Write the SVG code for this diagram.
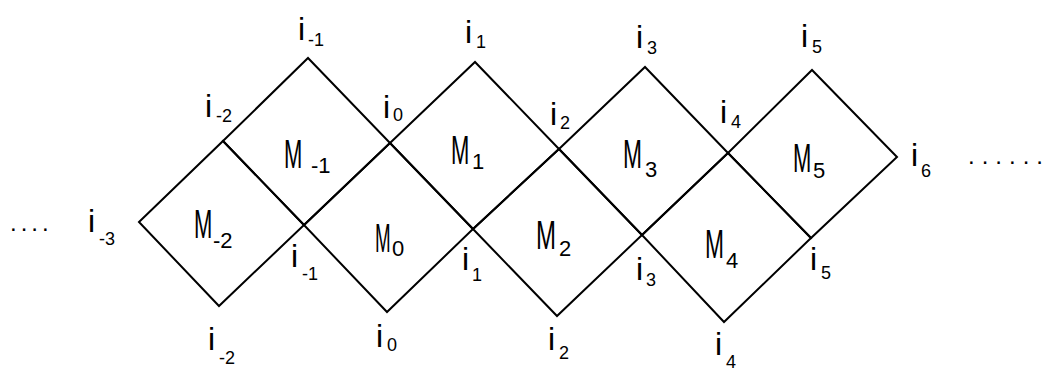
<svg xmlns="http://www.w3.org/2000/svg" width="1048" height="372" viewBox="0 0 1048 372">
<style>
  .cell { fill: none; stroke: #000; stroke-width: 2; stroke-linejoin: miter; }
  .m { font-family: "Liberation Sans", "DejaVu Sans", sans-serif; font-size: 40px; fill: #000; }
  .ms { font-family: "Liberation Sans", "DejaVu Sans", sans-serif; font-size: 22px; fill: #000; }
  .i { font-family: "Liberation Sans", "DejaVu Sans", sans-serif; font-size: 32px; fill: #000; }
  .is { font-size: 18px; }
  .dots { font-family: "Liberation Sans", "DejaVu Sans", sans-serif; font-size: 24px; fill: #000; }
</style>
<rect width="1048" height="372" fill="#fff"/>
<g id="connectors"></g>
<g id="nodes">
  <g id="M-2">
    <polygon class="cell" points="139,222 223,141 304,225 219,306"/>
    <text class="m" transform="translate(194,238) scale(0.55,1)">M</text>
    <text class="ms" x="213" y="248">-2</text>
  </g>
  <g id="M-1">
    <polygon class="cell" points="223,141 308,58 390,143 304,225"/>
    <text class="m" transform="translate(284,168) scale(0.55,1)">M</text>
    <text class="ms" x="311" y="173">-1</text>
  </g>
  <g id="M0">
    <polygon class="cell" points="304,225 390,143 473,229 387,312"/>
    <text class="m" transform="translate(375,252) scale(0.47,1)">M</text>
    <text class="ms" x="392" y="256">0</text>
  </g>
  <g id="M1">
    <polygon class="cell" points="390,143 475,62 559,149 473,229"/>
    <text class="m" transform="translate(451,164) scale(0.55,1)">M</text>
    <text class="ms" x="472" y="169">1</text>
  </g>
  <g id="M2">
    <polygon class="cell" points="473,229 559,149 642,235 557,316"/>
    <text class="m" transform="translate(536,249) scale(0.6,1)">M</text>
    <text class="ms" x="559" y="256">2</text>
  </g>
  <g id="M3">
    <polygon class="cell" points="559,149 645,67 728,153 642,235"/>
    <text class="m" transform="translate(623,168) scale(0.57,1)">M</text>
    <text class="ms" x="645" y="177">3</text>
  </g>
  <g id="M4">
    <polygon class="cell" points="642,235 728,153 811,238 724,322"/>
    <text class="m" transform="translate(705,258) scale(0.57,1)">M</text>
    <text class="ms" x="726" y="268">4</text>
  </g>
  <g id="M5">
    <polygon class="cell" points="728,153 812,70 897,157 811,238"/>
    <text class="m" transform="translate(793,172) scale(0.55,1)">M</text>
    <text class="ms" x="813" y="178">5</text>
  </g>
</g>
<g id="vertex-labels">
  <text class="i" x="298" y="40">i<tspan class="is" x="308" y="46">-1</tspan></text>
  <text class="i" x="465" y="43">i<tspan class="is" x="476" y="48">1</tspan></text>
  <text class="i" x="636" y="48">i<tspan class="is" x="647" y="54">3</tspan></text>
  <text class="i" x="801" y="47">i<tspan class="is" x="812" y="53">5</tspan></text>

  <text class="i" x="205" y="117">i<tspan class="is" x="216" y="122">-2</tspan></text>
  <text class="i" x="383" y="118">i<tspan class="is" x="393" y="121">0</tspan></text>
  <text class="i" x="550" y="125">i<tspan class="is" x="560" y="129">2</tspan></text>
  <text class="i" x="720" y="123">i<tspan class="is" x="731" y="128">4</tspan></text>

  <text class="i" x="88" y="232">i<tspan class="is" x="99" y="245">-3</tspan></text>
  <text class="i" x="911" y="166">i<tspan class="is" x="921" y="177">6</tspan></text>

  <text class="i" x="291" y="267">i<tspan class="is" x="302" y="280">-1</tspan></text>
  <text class="i" x="462" y="270">i<tspan class="is" x="472" y="281">1</tspan></text>
  <text class="i" x="636" y="280">i<tspan class="is" x="646" y="286">3</tspan></text>
  <text class="i" x="810" y="270">i<tspan class="is" x="821" y="279">5</tspan></text>

  <text class="i" x="208" y="350">i<tspan class="is" x="219" y="364">-2</tspan></text>
  <text class="i" x="376" y="347">i<tspan class="is" x="387" y="351">0</tspan></text>
  <text class="i" x="548" y="350">i<tspan class="is" x="559" y="359">2</tspan></text>
  <text class="i" x="715" y="355">i<tspan class="is" x="726" y="368">4</tspan></text>

  <text class="dots" x="10" y="231" letter-spacing="4">....</text>
  <text class="dots" x="968" y="164" letter-spacing="7">......</text>
</g>
</svg>
